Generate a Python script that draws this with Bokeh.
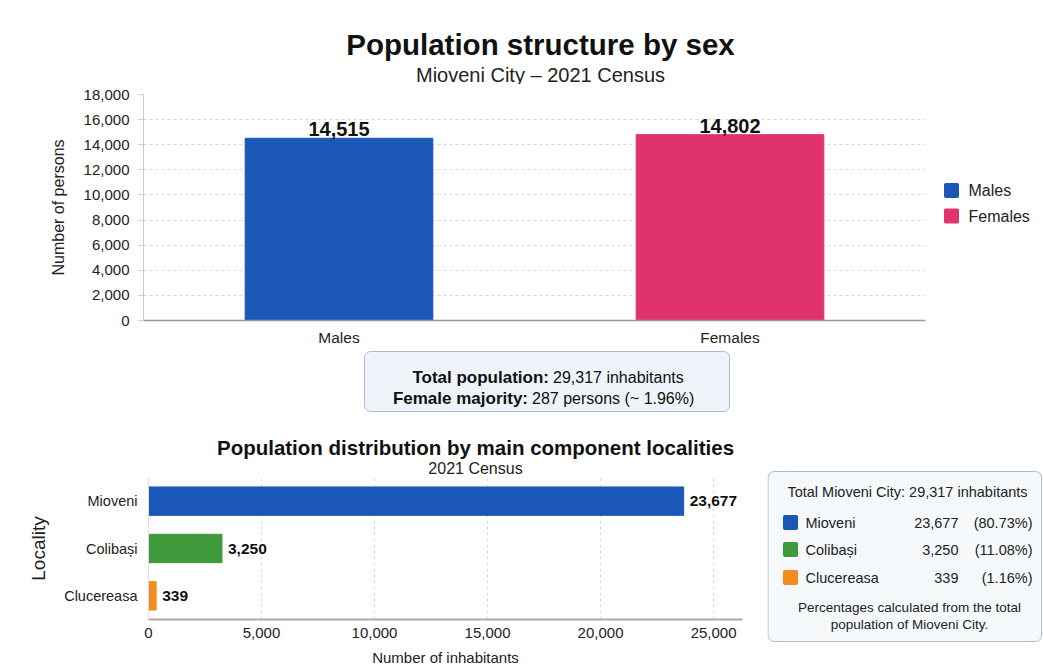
from bokeh.plotting import figure
from bokeh.models import (ColumnDataSource, FactorRange, Range1d, Label, BoxAnnotation,
                          NumeralTickFormatter, FixedTicker)
from bokeh.layouts import column, row
from bokeh.embed import file_html
from bokeh.resources import INLINE
from bokeh.core.properties import value

FONT = "Liberation Sans"

# ---------------- data ----------------
sexes = ["Males", "Females"]
sex_counts = [14515, 14802]
sex_colors = ["#1b57b6", "#e0336e"]
total_population = 29317
female_majority = 287
female_majority_pct = "1.96%"
y_ticks_top = [0, 2000, 4000, 6000, 8000, 10000, 12000, 14000, 16000, 18000]

localities = ["Mioveni", "Colibași", "Clucereasa"]
locality_counts = [23677, 3250, 339]
locality_pcts = ["80.73%", "11.08%", "1.16%"]
locality_colors = ["#1b57b6", "#3e9a3a", "#f28c1c"]
x_ticks_bottom = [0, 5000, 10000, 15000, 20000, 25000]

W = 1043


def no_align(fig):
    if "frame_align" in fig.properties():
        fig.frame_align = False


def canvas_fig(w, h):
    f = figure(width=w, height=h, x_range=Range1d(0, w), y_range=Range1d(h, 0),
               output_backend="svg", toolbar_location=None, min_border=0,
               x_axis_location=None, y_axis_location=None)
    f.grid.visible = False
    f.outline_line_color = None
    f.background_fill_color = "#ffffff"
    f.border_fill_color = "#ffffff"
    no_align(f)
    return f


def lab(f, x, y, text, size, bold=False, align="left", baseline="alphabetic", color="#111111"):
    f.add_layout(Label(x=x, y=y, text=text, text_font=FONT, text_font_size=f"{size}px",
                       text_font_style="bold" if bold else "normal",
                       text_align=align, text_baseline=baseline, text_color=color))


def box(f, left, right, top, bottom, fill, line, radius=0, lw=1):
    f.add_layout(BoxAnnotation(left=left, right=right, top=top, bottom=bottom,
                               fill_color=fill, fill_alpha=1.0, line_color=line,
                               line_alpha=1.0, line_width=lw, border_radius=radius))


def style_common(fig):
    fig.outline_line_color = None
    fig.background_fill_color = "#ffffff"
    fig.border_fill_color = "#ffffff"
    no_align(fig)
    for ax in fig.axis:
        ax.major_label_text_font = FONT
        ax.axis_label_text_font = FONT
        ax.axis_label_text_font_style = "normal"
        ax.major_label_text_color = "#222222"
        ax.axis_label_text_color = "#222222"
        ax.minor_tick_line_color = None


# ---------------- header (page y 0-84) ----------------
HEAD_H = 84
head = canvas_fig(W, HEAD_H)
lab(head, 540, 44, "Population structure by sex", 29.5, bold=True, align="center")
lab(head, 540, 74, "Mioveni City \u2013 2021 Census", 20, align="center", color="#222222")

# ---------------- top chart (page y 84-350, x 0-930) ----------------
TOP_H = 350 - HEAD_H
p = figure(width=930, height=TOP_H, x_range=FactorRange(factors=sexes), y_range=Range1d(0, 18000),
           output_backend="svg", toolbar_location=None,
           min_border_left=143, min_border_right=5, min_border_top=94 - HEAD_H,
           min_border_bottom=30)

src = ColumnDataSource(dict(sex=sexes, count=sex_counts, color=sex_colors,
                            label=[f"{v:,}" for v in sex_counts]))
p.vbar(x="sex", top="count", width=0.48, color="color", source=src)
p.text(x="sex", y="count", text="label", source=src, y_offset=-9,
       text_align="center", text_baseline="alphabetic", text_font=value(FONT),
       text_font_style="bold", text_font_size="20px", text_color="#111111")

style_common(p)
p.xgrid.grid_line_color = None
p.ygrid.grid_line_color = "#d9d9d9"
p.ygrid.grid_line_dash = "3 3"
p.yaxis.ticker = FixedTicker(ticks=y_ticks_top)
p.yaxis.formatter = NumeralTickFormatter(format="0,0")
p.yaxis.axis_label = "Number of persons"
p.yaxis.axis_label_text_font_size = "16px"
p.yaxis.major_label_text_font_size = "15px"
p.yaxis.axis_line_color = "#cccccc"
p.yaxis.major_tick_line_color = "#cccccc"
p.yaxis.major_tick_out = 5
p.yaxis.major_tick_in = 0
p.yaxis.major_label_standoff = 9
p.yaxis.axis_label_standoff = 14
p.xaxis.axis_line_color = "#999999"
p.xaxis.axis_line_width = 1.5
p.xaxis.major_tick_line_color = None
p.xaxis.major_tick_out = 0
p.xaxis.major_tick_in = 0
p.xaxis.major_label_standoff = 8
p.xaxis.major_label_text_font_size = "15.5px"

# ---------------- top legend (page x 930-1043, y 84-350) ----------------
leg1 = canvas_fig(W - 930, TOP_H)
for i, (s, c) in enumerate(zip(sexes, sex_colors)):
    yc = 190 - HEAD_H + 25.5 * i
    box(leg1, 14, 28, yc - 7, yc + 7, c, c, radius=1)
    lab(leg1, 38, yc, s, 16, baseline="middle", color="#222222")

# ---------------- info box (page y 350-425) ----------------
info = canvas_fig(W, 75)
box(info, 364, 729, 1, 61, "#eef4fa", "#a9bdd2", radius=6)
lab(info, 548.5, 27, "Total population:", 17, bold=True, align="right")
lab(info, 552.5, 27, f"{total_population:,} inhabitants", 16, align="left")
lab(info, 527.5, 48, "Female majority:", 17, bold=True, align="right")
lab(info, 531.5, 48, f"{female_majority} persons (~ {female_majority_pct})", 16, align="left")

# ---------------- bottom header (page y 425-477, x 0-767) ----------------
head2 = canvas_fig(767, 52)
lab(head2, 475, 22, "Population distribution by main component localities", 20.5, bold=True,
    align="center")
lab(head2, 475, 43, "2021 Census", 16, align="center", color="#222222")

# ---------------- bottom chart (page y 477-668, x 0-767) ----------------
q = figure(width=767, height=191, y_range=FactorRange(factors=list(reversed(localities))),
           x_range=Range1d(0, 26280), output_backend="svg", toolbar_location=None,
           min_border_left=148, min_border_right=25, min_border_top=0, min_border_bottom=47)

src2 = ColumnDataSource(dict(loc=localities, count=locality_counts, color=locality_colors,
                             label=[f"{v:,}" for v in locality_counts]))
q.hbar(y="loc", right="count", height=0.6, color="color", source=src2)
q.text(x="count", y="loc", text="label", source=src2, x_offset=6,
       text_align="left", text_baseline="middle", text_font=value(FONT),
       text_font_style="bold", text_font_size="15.5px", text_color="#111111")

style_common(q)
q.ygrid.grid_line_color = None
q.xgrid.grid_line_color = "#dddddd"
q.xgrid.grid_line_dash = "3 3"
q.xaxis.ticker = FixedTicker(ticks=x_ticks_bottom)
q.xaxis.formatter = NumeralTickFormatter(format="0,0")
q.xaxis.axis_label = "Number of inhabitants"
q.xaxis.axis_label_text_font_size = "15px"
q.xaxis.major_label_text_font_size = "15px"
q.xaxis.axis_line_color = "#aaaaaa"
q.xaxis.axis_line_width = 2
q.xaxis.major_tick_line_color = None
q.xaxis.major_tick_out = 0
q.xaxis.major_tick_in = 0
q.xaxis.major_label_standoff = 8
q.xaxis.axis_label_standoff = 8
q.yaxis.axis_label = "Locality"
q.yaxis.axis_label_text_font_size = "19px"
q.yaxis.major_label_text_font_size = "14.5px"
q.yaxis.axis_line_color = "#dddddd"
q.yaxis.major_tick_line_color = None
q.yaxis.major_tick_out = 0
q.yaxis.major_tick_in = 0
q.yaxis.major_label_standoff = 11
q.yaxis.axis_label_standoff = 12

# ---------------- bottom legend box (page x 767-1043, y 425-668) ----------------
leg2 = canvas_fig(276, 243)
box(leg2, 0.5, 274, 46, 216, "#f6f9fc", "#a9bdd2", radius=6)
lab(leg2, 140, 66, f"Total Mioveni City: {total_population:,} inhabitants", 14.5, align="center",
    baseline="middle", color="#222222")
row_centers = [97, 124, 152]
for name, cnt, pct, col, yc in zip(localities, locality_counts, locality_pcts, locality_colors,
                                    row_centers):
    box(leg2, 16, 30, yc - 7, yc + 7, col, col, radius=1)
    lab(leg2, 38, yc, name, 14.5, baseline="middle", color="#222222")
    lab(leg2, 191, yc, f"{cnt:,}", 14.5, align="right", baseline="middle", color="#222222")
    lab(leg2, 265, yc, f"({pct})", 14.5, align="right", baseline="middle", color="#222222")
lab(leg2, 142, 182, "Percentages calculated from the total", 13.5, align="center",
    baseline="middle", color="#222222")
lab(leg2, 142, 199, "population of Mioveni City.", 13.5, align="center", baseline="middle",
    color="#222222")

layout = column(head, row(p, leg1), info, row(column(head2, q), leg2))
open("out.html", "w").write(file_html(layout, INLINE))
